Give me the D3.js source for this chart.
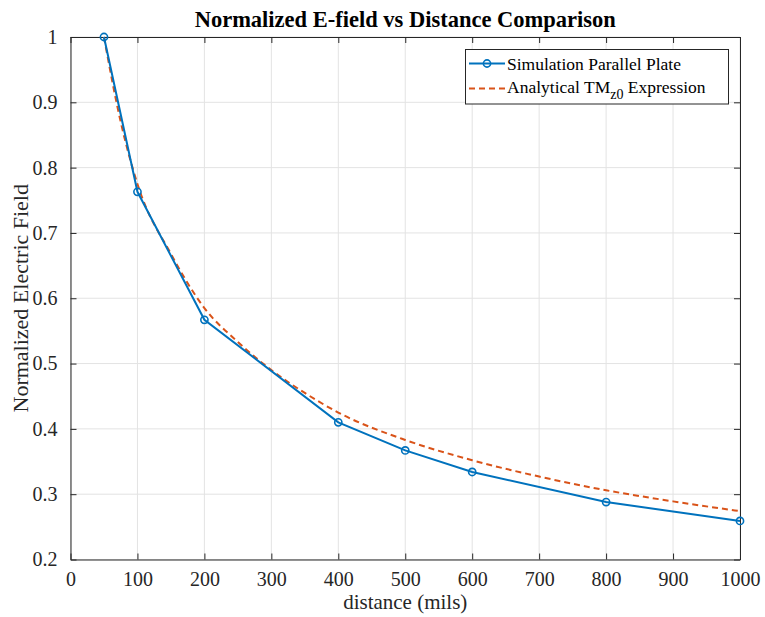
<!DOCTYPE html>
<html>
<head>
<meta charset="utf-8">
<script src="https://cdn.jsdelivr.net/npm/d3@7"></script>
<style>
  body { margin: 0; background: #fff; }
  svg text { font-family: "Liberation Serif", "Times New Roman", serif; }
</style>
</head>
<body>
<svg id="chart" width="765" height="617"></svg>
<script>
// simulated points
const simDistance = [50, 100, 200, 400, 500, 600, 800, 1000];
const simField = [1.0, 0.763, 0.567, 0.41, 0.367, 0.334, 0.288, 0.259];

// analytical curve
const anaDistance = [50, 75, 100, 150, 200, 250, 300, 350, 400, 500, 600, 700, 800, 900, 1000];
const anaField = [1.0, 0.87, 0.775, 0.668, 0.585, 0.533, 0.49, 0.455, 0.425, 0.383, 0.352, 0.327, 0.306, 0.289, 0.274];

const xTicks = [0, 100, 200, 300, 400, 500, 600, 700, 800, 900, 1000];
const yTicks = [0.2, 0.3, 0.4, 0.5, 0.6, 0.7, 0.8, 0.9, 1];

const serif = "Liberation Serif";

function createChart() {
  const svg = d3.select("#chart");
  const left = 70.5;
  const right = 740;
  const top = 37;
  const bottom = 559.5;
  const blue = "#0072BD";
  const orange = "#D95319";
  const axisColor = "#262626";

  const xScale = d3.scaleLinear().domain([0, 1000]).range([left, right]);
  const yScale = d3.scaleLinear().domain([0.2, 1]).range([bottom, top]);

  // grid
  const grid = svg.append("g").attr("stroke", "#e3e3e3").attr("stroke-width", 1);
  grid.selectAll(".gx")
    .data(xTicks)
    .enter()
    .append("line")
    .attr("x1", (d) => xScale(d))
    .attr("x2", (d) => xScale(d))
    .attr("y1", top)
    .attr("y2", bottom);
  grid.selectAll(".gy")
    .data(yTicks)
    .enter()
    .append("line")
    .attr("x1", left)
    .attr("x2", right)
    .attr("y1", (d) => yScale(d))
    .attr("y2", (d) => yScale(d));

  // axes, ticks inside, box on
  const fmtY = (d) => (d === 1 ? "1" : d3.format(".1f")(d));
  const xAxis = svg.append("g")
    .attr("transform", "translate(0," + bottom + ")")
    .call(d3.axisBottom(xScale).tickValues(xTicks).tickSizeInner(-6).tickSizeOuter(0).tickPadding(12).tickFormat(d3.format("d")));
  const xAxisTop = svg.append("g")
    .attr("transform", "translate(0," + top + ")")
    .call(d3.axisTop(xScale).tickValues(xTicks).tickSizeInner(-6).tickSizeOuter(0).tickFormat(""));
  const yAxis = svg.append("g")
    .attr("transform", "translate(" + left + ",0)")
    .call(d3.axisLeft(yScale).tickValues(yTicks).tickSizeInner(-6).tickSizeOuter(0).tickPadding(13).tickFormat(fmtY));
  const yAxisRight = svg.append("g")
    .attr("transform", "translate(" + right + ",0)")
    .call(d3.axisRight(yScale).tickValues(yTicks).tickSizeInner(-6).tickSizeOuter(0).tickFormat(""));

  [xAxis, xAxisTop, yAxis, yAxisRight].forEach((g) => {
    g.attr("font-family", serif).attr("font-size", 20);
    g.selectAll("path").attr("stroke", axisColor).attr("stroke-width", 1);
    g.selectAll("line").attr("stroke", axisColor).attr("stroke-width", 1);
    g.selectAll("text").attr("fill", axisColor).attr("font-family", serif);
  });
  xAxis.selectAll("text").attr("dy", "0.71em");

  // analytical dashed line
  const line = d3.line().x((d) => xScale(d[0])).y((d) => yScale(d[1])).curve(d3.curveMonotoneX);
  svg.append("path")
    .datum(anaDistance.map((d, i) => [d, anaField[i]]))
    .attr("d", line)
    .attr("fill", "none")
    .attr("stroke", orange)
    .attr("stroke-width", 2)
    .attr("stroke-dasharray", "6,4");

  // simulation line with circles
  const simLine = d3.line().x((d) => xScale(d[0])).y((d) => yScale(d[1]));
  const simData = simDistance.map((d, i) => [d, simField[i]]);
  svg.append("path")
    .datum(simData)
    .attr("d", simLine)
    .attr("fill", "none")
    .attr("stroke", blue)
    .attr("stroke-width", 2);
  svg.selectAll(".marker")
    .data(simData)
    .enter()
    .append("circle")
    .attr("class", "marker")
    .attr("cx", (d) => xScale(d[0]))
    .attr("cy", (d) => yScale(d[1]))
    .attr("r", 3.6)
    .attr("fill", "none")
    .attr("stroke", blue)
    .attr("stroke-width", 1.6);

  // title and labels
  svg.append("text")
    .text("Normalized E-field vs Distance Comparison")
    .attr("x", (left + right) / 2)
    .attr("y", 27)
    .attr("text-anchor", "middle")
    .attr("font-family", serif)
    .attr("font-size", 22.5)
    .attr("font-weight", "bold")
    .attr("fill", "#000");
  svg.append("text")
    .text("distance (mils)")
    .attr("x", (left + right) / 2)
    .attr("y", 609)
    .attr("text-anchor", "middle")
    .attr("font-family", serif)
    .attr("font-size", 21)
    .attr("fill", axisColor);
  svg.append("text")
    .text("Normalized Electric Field")
    .attr("transform", "translate(28," + (top + bottom) / 2 + ") rotate(-90)")
    .attr("text-anchor", "middle")
    .attr("font-family", serif)
    .attr("font-size", 22)
    .attr("fill", axisColor);

  // legend
  const legend = svg.append("g").attr("class", "legend").attr("font-family", serif);
  legend.append("rect")
    .attr("x", 465.5)
    .attr("y", 49.5)
    .attr("width", 263)
    .attr("height", 54.5)
    .attr("fill", "#fff")
    .attr("stroke", axisColor)
    .attr("stroke-width", 1);

  const row1 = 63.5;
  const row2 = 88.5;
  legend.append("line")
    .attr("x1", 469).attr("x2", 505).attr("y1", row1).attr("y2", row1)
    .attr("stroke", blue).attr("stroke-width", 2);
  legend.append("circle")
    .attr("cx", 487).attr("cy", row1).attr("r", 3.6)
    .attr("fill", "none").attr("stroke", blue).attr("stroke-width", 1.6);
  legend.append("text")
    .text("Simulation Parallel Plate")
    .attr("x", 507).attr("y", row1 + 6)
    .attr("font-family", serif)
    .attr("font-size", 17.5).attr("fill", "#000");

  legend.append("line")
    .attr("x1", 469).attr("x2", 505).attr("y1", row2).attr("y2", row2)
    .attr("stroke", orange).attr("stroke-width", 2).attr("stroke-dasharray", "6,4");
  const t2 = legend.append("text")
    .attr("x", 507).attr("y", row2 + 4)
    .attr("font-family", serif)
    .attr("font-size", 17.5).attr("fill", "#000");
  t2.append("tspan").text("Analytical TM");
  t2.append("tspan").text("z0").attr("font-size", 14).attr("dy", 6);
  t2.append("tspan").text(" Expression").attr("dy", -6);
}

createChart();
</script>
</body>
</html>
